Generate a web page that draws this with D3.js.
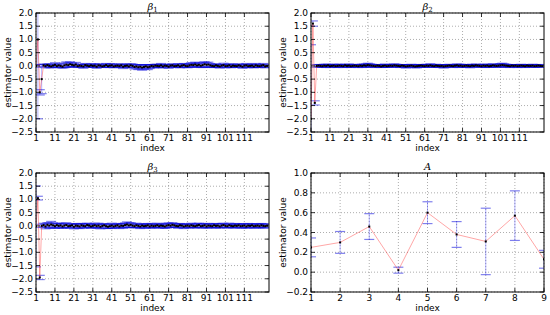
<!DOCTYPE html>
<html>
<head>
<meta charset="utf-8">
<script src="https://cdn.jsdelivr.net/npm/d3@7"></script>
<style>
  body { margin: 0; background: #fff; }
  svg { display: block; font-family: "DejaVu Sans", sans-serif; }
</style>
</head>
<body>
<div id="chart"></div>
<script>
// ---- data ----
var beta1Mean = [0.0, 1.0, -1.0, -0.5,
  0.02,-0.01,0.03,0.00,-0.02,0.01,0.04,-0.01,0.02,0.00,-0.03,0.02,0.05,0.03,0.06,0.04,0.02,0.05,-0.01,0.01,
  0.00,-0.02,0.03,0.01,-0.01,0.02,0.00,0.01,-0.03,0.02,0.01,-0.02,0.00,0.03,-0.01,0.01,0.02,-0.02,0.00,0.01,
  -0.01,0.02,-0.03,0.00,0.01,-0.02,0.02,0.00,-0.04,-0.02,-0.05,-0.03,-0.06,-0.04,-0.02,-0.05,-0.03,0.00,-0.02,0.01,
  0.00,-0.01,0.02,-0.02,0.01,0.00,-0.03,0.01,0.02,-0.01,0.00,0.02,-0.02,0.01,0.03,0.00,-0.01,0.02,0.04,0.03,
  0.05,0.02,0.04,0.01,0.03,0.06,0.04,0.05,0.02,0.00,-0.01,0.02,0.00,-0.02,0.01,0.03,-0.01,0.00,0.02,-0.02,
  0.01,0.00,-0.01,0.02,0.00,-0.03,0.01,0.02,-0.01,0.00,0.01,-0.02,0.02,0.00,-0.01,0.01,0.03,-0.02,0.00];
var beta1Err = [0.05, 3.0, 0.1, 0.55,
  0.05,0.06,0.04,0.07,0.05,0.06,0.08,0.05,0.06,0.07,0.05,0.09,0.10,0.08,0.09,0.07,0.06,0.08,0.05,0.06,
  0.05,0.07,0.06,0.05,0.04,0.06,0.05,0.07,0.06,0.05,0.06,0.04,0.05,0.06,0.05,0.07,0.06,0.05,0.04,0.06,
  0.05,0.06,0.07,0.05,0.06,0.05,0.06,0.07,0.08,0.06,0.09,0.07,0.10,0.08,0.06,0.09,0.07,0.05,0.06,0.05,
  0.06,0.05,0.07,0.06,0.05,0.04,0.06,0.05,0.06,0.05,0.04,0.06,0.05,0.07,0.06,0.05,0.06,0.07,0.08,0.07,
  0.09,0.06,0.08,0.07,0.09,0.10,0.08,0.09,0.07,0.06,0.05,0.06,0.05,0.06,0.05,0.07,0.06,0.05,0.06,0.05,
  0.06,0.05,0.04,0.06,0.05,0.06,0.05,0.07,0.06,0.05,0.06,0.05,0.07,0.06,0.05,0.04,0.06,0.05,0.06];

var beta2Mean = [-2.0, 1.6, -1.4, 0.0,
  0.01,0.00,-0.01,0.01,0.00,0.02,-0.01,0.00,0.01,-0.01,0.00,0.01,0.00,-0.01,0.02,0.00,0.01,-0.01,0.00,0.01,
  0.00,-0.01,0.01,0.00,0.02,0.01,0.03,0.02,0.01,0.00,-0.01,0.01,0.00,-0.02,0.00,0.01,-0.01,0.00,0.01,0.00,
  0.02,0.01,0.00,-0.01,0.01,0.00,-0.02,-0.01,0.00,0.01,-0.01,-0.02,-0.01,0.00,0.01,0.00,-0.01,0.01,0.00,0.02,
  0.00,-0.01,0.01,0.00,-0.01,0.00,-0.02,-0.01,0.00,0.01,0.00,-0.01,0.01,0.02,0.00,0.01,-0.01,0.00,0.01,0.00,
  -0.01,0.01,0.00,0.02,0.01,0.00,-0.01,0.01,0.00,0.01,-0.01,0.00,0.02,0.01,0.00,0.01,0.02,0.03,0.02,0.01,
  0.00,-0.01,0.01,0.00,0.01,-0.01,0.00,0.01,0.00,-0.01,0.01,0.00,0.00,0.01,-0.01,0.00,0.01,0.00,-0.01];
var beta2Err = [2.8, 0.1, 0.08, 0.05,
  0.04,0.05,0.04,0.05,0.06,0.04,0.05,0.04,0.05,0.04,0.06,0.05,0.04,0.05,0.04,0.05,0.06,0.05,0.04,0.05,
  0.04,0.05,0.04,0.06,0.05,0.06,0.07,0.06,0.05,0.04,0.05,0.04,0.05,0.04,0.05,0.06,0.04,0.05,0.04,0.05,
  0.06,0.05,0.04,0.05,0.04,0.05,0.06,0.05,0.04,0.05,0.04,0.05,0.06,0.05,0.04,0.05,0.04,0.05,0.04,0.06,
  0.05,0.04,0.05,0.04,0.05,0.04,0.06,0.05,0.04,0.05,0.04,0.05,0.04,0.05,0.06,0.05,0.04,0.05,0.04,0.05,
  0.06,0.05,0.04,0.05,0.04,0.05,0.04,0.05,0.06,0.05,0.04,0.05,0.06,0.05,0.04,0.05,0.06,0.07,0.06,0.05,
  0.04,0.05,0.04,0.05,0.04,0.05,0.04,0.05,0.04,0.05,0.04,0.05,0.04,0.05,0.04,0.05,0.04,0.05,0.04];

var beta3Mean = [-0.02, 1.05, -1.95, 0.0,
  0.03,-0.02,0.04,0.01,0.05,0.02,-0.01,0.03,0.00,0.02,-0.02,0.01,0.03,-0.01,0.00,0.02,-0.03,0.01,0.00,-0.02,
  0.02,0.00,-0.01,0.03,0.01,-0.02,0.00,0.02,-0.01,0.01,-0.03,0.00,0.02,-0.01,-0.03,-0.01,0.01,-0.02,0.00,0.02,
  -0.02,0.01,0.00,0.03,0.05,0.02,0.04,0.01,-0.01,0.02,0.00,-0.02,0.01,-0.01,0.00,0.02,-0.02,0.01,-0.01,0.00,
  0.02,-0.01,0.01,0.00,-0.02,0.01,0.03,0.01,0.04,0.02,0.00,-0.01,0.02,0.01,-0.02,0.00,0.01,-0.01,0.02,0.00,
  -0.01,0.01,0.03,-0.01,0.00,0.02,-0.02,0.01,0.00,-0.01,0.02,0.00,0.01,-0.02,0.01,0.03,0.00,-0.01,0.02,0.00,
  -0.01,0.01,0.00,0.02,-0.01,0.00,0.01,-0.02,0.01,0.00,0.02,-0.01,0.00,0.01,-0.01,0.02,0.00,-0.01,0.01];
var beta3Err = [1.53, 0.07, 0.08, 0.06,
  0.07,0.09,0.08,0.10,0.12,0.09,0.08,0.07,0.09,0.08,0.07,0.08,0.09,0.07,0.08,0.06,0.08,0.07,0.09,0.08,
  0.07,0.08,0.06,0.07,0.08,0.07,0.06,0.08,0.07,0.09,0.08,0.07,0.06,0.08,0.07,0.08,0.09,0.07,0.06,0.07,
  0.08,0.07,0.09,0.08,0.10,0.09,0.08,0.07,0.06,0.08,0.07,0.08,0.06,0.07,0.08,0.07,0.06,0.08,0.07,0.06,
  0.08,0.07,0.06,0.08,0.07,0.09,0.08,0.07,0.08,0.07,0.06,0.08,0.07,0.06,0.08,0.07,0.06,0.07,0.08,0.07,
  0.06,0.08,0.07,0.06,0.08,0.07,0.06,0.08,0.07,0.06,0.07,0.08,0.07,0.06,0.08,0.07,0.06,0.07,0.08,0.07,
  0.06,0.08,0.07,0.06,0.07,0.08,0.07,0.06,0.08,0.07,0.06,0.07,0.08,0.07,0.06,0.07,0.08,0.07,0.06];

var aMean = [0.25, 0.30, 0.46, 0.02, 0.60, 0.38, 0.31, 0.57, 0.13];
var aErr  = [0.095, 0.11, 0.13, 0.03, 0.11, 0.13, 0.335, 0.25, 0.09];

var betaXTicks = [1, 11, 21, 31, 41, 51, 61, 71, 81, 91, 101, 111];
var betaYTicks = [-2.5, -2.0, -1.5, -1.0, -0.5, 0.0, 0.5, 1.0, 1.5, 2.0];
var aXTicks = [1, 2, 3, 4, 5, 6, 7, 8, 9];
var aYTicks = [-0.2, 0.0, 0.2, 0.4, 0.6, 0.8, 1.0];

var W = 550, H = 315;
var svg = d3.select("#chart").append("svg")
    .attr("width", W)
    .attr("height", H);

var fmt = function(d){ return d3.format(".1f")(d).replace("-", "\u2212"); };

function drawPanel(box, means, errs, xDomain, yDomain, xTicks, yTicks, title, sub, id) {
  var x = d3.scaleLinear().domain(xDomain).range([box.left, box.right]);
  var y = d3.scaleLinear().domain(yDomain).range([box.bottom, box.top]);
  var g = svg.append("g");

  g.append("clipPath").attr("id", id)
    .append("rect")
      .attr("x", box.left).attr("y", box.top)
      .attr("width", box.right - box.left).attr("height", box.bottom - box.top);

  // grid
  var grid = g.append("g")
      .attr("stroke", "#777")
      .attr("stroke-width", 0.6)
      .attr("stroke-dasharray", "1,2");
  grid.selectAll(".gx").data(xTicks).enter().append("line")
      .attr("x1", d => x(d)).attr("x2", d => x(d))
      .attr("y1", box.top).attr("y2", box.bottom);
  grid.selectAll(".gy").data(yTicks).enter().append("line")
      .attr("x1", box.left).attr("x2", box.right)
      .attr("y1", d => y(d)).attr("y2", d => y(d));

  var pts = means.map(function(m, i){ return {i: i + 1, m: m, e: errs[i]}; });
  var plot = g.append("g").attr("clip-path", "url(#" + id + ")");

  // error bars
  plot.append("g").attr("stroke", "rgba(0,0,255,0.3)").attr("stroke-width", 1)
    .selectAll("line").data(pts).enter().append("line")
      .attr("x1", d => x(d.i)).attr("x2", d => x(d.i))
      .attr("y1", d => y(d.m - d.e)).attr("y2", d => y(d.m + d.e));
  var caps = plot.append("g").attr("stroke", "rgba(0,0,220,0.5)").attr("stroke-width", 1.2);
  [-1, 1].forEach(function(s){
    caps.selectAll(".c" + s).data(pts).enter().append("line")
      .attr("x1", d => x(d.i) - 5).attr("x2", d => x(d.i) + 5)
      .attr("y1", d => y(d.m + s * d.e)).attr("y2", d => y(d.m + s * d.e));
  });

  // mean line
  plot.append("path").datum(pts)
      .attr("fill", "none")
      .attr("stroke", "rgba(255,0,0,0.35)")
      .attr("stroke-width", 1)
      .attr("d", d3.line().x(d => x(d.i)).y(d => y(d.m)));

  plot.append("g").selectAll("rect").data(pts).enter().append("rect")
      .attr("x", d => x(d.i) - 1).attr("y", d => y(d.m) - 1)
      .attr("width", 2).attr("height", 2)
      .attr("fill", "#000");

  // frame
  g.append("rect")
      .attr("x", box.left).attr("y", box.top)
      .attr("width", box.right - box.left).attr("height", box.bottom - box.top)
      .attr("fill", "none").attr("stroke", "#000").attr("stroke-width", 1);

  // inward ticks on all sides
  var tk = g.append("g").attr("stroke", "#000").attr("stroke-width", 0.8);
  xTicks.forEach(function(t){
    tk.append("line").attr("x1", x(t)).attr("x2", x(t)).attr("y1", box.bottom).attr("y2", box.bottom - 4);
    tk.append("line").attr("x1", x(t)).attr("x2", x(t)).attr("y1", box.top).attr("y2", box.top + 4);
  });
  yTicks.forEach(function(t){
    tk.append("line").attr("x1", box.left).attr("x2", box.left + 4).attr("y1", y(t)).attr("y2", y(t));
    tk.append("line").attr("x1", box.right).attr("x2", box.right - 4).attr("y1", y(t)).attr("y2", y(t));
  });

  // tick labels
  g.append("g").selectAll("text").data(xTicks).enter().append("text")
      .attr("x", d => x(d)).attr("y", box.bottom + 9)
      .attr("text-anchor", "middle")
      .attr("font-size", 9)
      .text(d => d);
  g.append("g").selectAll("text").data(yTicks).enter().append("text")
      .attr("x", box.left - 3).attr("y", d => y(d) + 3)
      .attr("text-anchor", "end")
      .attr("font-size", 9)
      .text(fmt);

  // axis labels
  g.append("text")
      .attr("x", (box.left + box.right) / 2).attr("y", box.bottom + 19)
      .attr("text-anchor", "middle").attr("font-size", 9)
      .text("index");
  g.append("text")
      .attr("transform", "translate(" + (box.left - 25) + "," + ((box.top + box.bottom) / 2) + ") rotate(-90)")
      .attr("text-anchor", "middle").attr("font-size", 9)
      .text("estimator value");

  // title
  var tt = g.append("text")
      .attr("x", (box.left + box.right) / 2).attr("y", box.top - 3)
      .attr("text-anchor", "middle").attr("font-size", 10)
      .attr("font-family", "DejaVu Serif, serif")
      .attr("font-style", "italic");
  tt.append("tspan").text(title);
  if (sub) {
    tt.append("tspan").attr("font-size", 7).attr("dy", 2).attr("font-style", "normal").text(sub);
  }
}

var boxTL = {left: 36, right: 269, top: 13, bottom: 132};
var boxTR = {left: 311, right: 544, top: 13, bottom: 132};
var boxBL = {left: 36, right: 269, top: 173, bottom: 292};
var boxBR = {left: 311, right: 544, top: 173, bottom: 292};

drawPanel(boxTL, beta1Mean, beta1Err, [1, 124], [-2.5, 2.0], betaXTicks, betaYTicks, "\u03b2", "1", "c1");
drawPanel(boxTR, beta2Mean, beta2Err, [1, 124], [-2.5, 2.0], betaXTicks, betaYTicks, "\u03b2", "2", "c2");
drawPanel(boxBL, beta3Mean, beta3Err, [1, 124], [-2.5, 2.0], betaXTicks, betaYTicks, "\u03b2", "3", "c3");
drawPanel(boxBR, aMean, aErr, [1, 9], [-0.2, 1.0], aXTicks, aYTicks, "A", null, "c4");
</script>
</body>
</html>
